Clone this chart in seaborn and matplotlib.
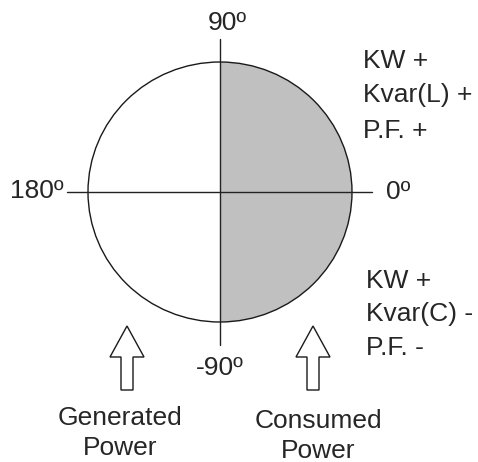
import numpy as np
import matplotlib
matplotlib.use("Agg")
import matplotlib.pyplot as plt
from matplotlib.patches import Ellipse, FancyArrow, Polygon
import seaborn as sns

sns.set_theme(style="white")
plt.rcParams['font.family'] = ['Liberation Sans', 'DejaVu Sans']

# Data / labels
angle_labels = ["90º", "0º", "180º", "-90º"]
quadrant_upper = ["KW +", "Kvar(L) +", "P.F. +"]
quadrant_lower = ["KW +", "Kvar(C) -", "P.F. -"]
arrow_labels = [["Generated", "Power"], ["Consumed", "Power"]]

W, H = 478, 462
fig = plt.figure(figsize=(W / 100, H / 100), dpi=100)
ax = fig.add_axes([0, 0, 1, 1])
ax.set_xlim(0, W)
ax.set_ylim(H, 0)
ax.axis("off")

cx, cy, rx, ry = 220, 192, 132, 130
fs = 19

# shaded right half
t = np.linspace(-np.pi / 2, np.pi / 2, 200)
pts = np.column_stack([cx + rx * np.cos(t), cy + ry * np.sin(t)])
ax.add_patch(Polygon(pts, closed=True, facecolor="#c0c0c0", edgecolor="none", zorder=1))
ax.add_patch(Ellipse((cx, cy), 2 * rx, 2 * ry, facecolor="none", edgecolor="#1a1a1a", lw=1.0, zorder=2))

# axes lines
sns.lineplot(x=[67, 372], y=[cy, cy], ax=ax, color="#222222", lw=1.0, sort=False)
ax.plot([cx, cx], [39, 345], color="#222222", lw=1.0)

# angle labels
ax.text(227.5, 30, angle_labels[0], ha="center", va="baseline", fontsize=fs)
ax.text(386, 199, angle_labels[1], ha="left", va="baseline", fontsize=fs)
ax.text(64, 198, angle_labels[2], ha="right", va="baseline", fontsize=fs)
ax.text(220, 375, angle_labels[3], ha="center", va="baseline", fontsize=fs)

# quadrant labels
for y, s in zip([68, 102, 138], quadrant_upper):
    ax.text(363, y, s, ha="left", va="baseline", fontsize=fs)
for y, s in zip([288, 321, 355], quadrant_lower):
    ax.text(366, y, s, ha="left", va="baseline", fontsize=fs)

# arrows
for x0 in (127, 313):
    ax.add_patch(FancyArrow(x0, 390, 0, -64, width=12, head_width=34, head_length=31,
                            length_includes_head=True, facecolor="white",
                            edgecolor="#1a1a1a", lw=1.0, zorder=3))

for (xc, yb), lines in zip([(120, 425), (318, 428)], arrow_labels):
    for k, s in enumerate(lines):
        ax.text(xc, yb + 30 * k, s, ha="center", va="baseline", fontsize=fs)

fig.savefig("out.png", dpi=100)
